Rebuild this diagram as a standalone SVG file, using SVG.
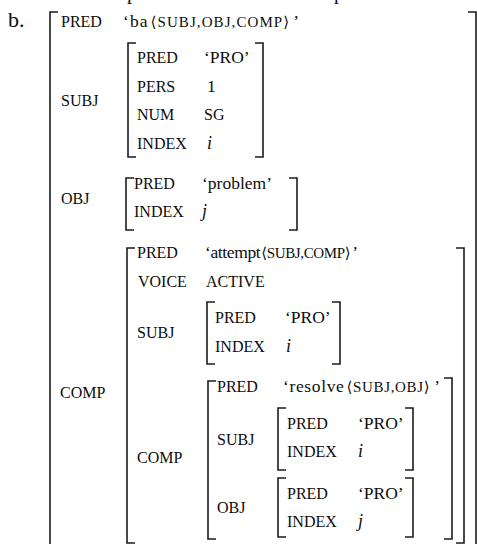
<svg xmlns="http://www.w3.org/2000/svg" width="477" height="544" viewBox="0 0 477 544">
  <style>
    text { font-family: "Liberation Serif", "Times New Roman", serif; fill: #0d0d0d; }
    .lab { font-size: 16px; }
    .val { font-size: 17.5px; }
    .sc { font-size: 15px; }
    .ang { font-family: "DejaVu Serif", serif; font-size: 15px; }
    .it { font-style: italic; font-size: 18px; }
    .num { font-size: 22px; }
    .cut { font-size: 20px; }
    .brk { fill: none; stroke: #1c1c1c; stroke-width: 1.6; }
  </style>

  <!-- descenders of the line above, cut off by the frame -->
  <text class="cut" x="127" y="-1">p</text>
  <text class="cut" x="334" y="-1">p</text>

  <text class="num" x="8" y="27">b.</text>

  <!-- outermost f-structure -->
  <g id="f-main">
    <path class="brk" d="M58 12 H50 V560"/>
    <path class="brk" d="M468 12 H476 V560"/>
    <text class="lab" x="61" y="27">PRED</text>
    <text class="val" x="123" y="27" textLength="176" lengthAdjust="spacing">‘ba<tspan class="ang" dx="2">⟨</tspan><tspan class="sc">SUBJ,OBJ,COMP</tspan><tspan class="ang">⟩</tspan><tspan dx="3">’</tspan></text>
    <text class="lab" x="61" y="106">SUBJ</text>
    <text class="lab" x="61" y="204">OBJ</text>
    <text class="lab" x="60" y="398">COMP</text>
  </g>

  <!-- SUBJ of ba -->
  <g id="f-subj">
    <path class="brk" d="M136 43 H128 V157 H136"/>
    <path class="brk" d="M255 43 H263 V157 H255"/>
    <text class="lab" x="137" y="63">PRED</text>
    <text class="val" x="204" y="63">‘PRO’</text>
    <text class="lab" x="137" y="92">PERS</text>
    <text class="val" x="207" y="92">1</text>
    <text class="lab" x="137" y="120">NUM</text>
    <text class="lab" x="204" y="120">SG</text>
    <text class="lab" x="137" y="149">INDEX</text>
    <text class="it" x="207" y="149">i</text>
  </g>

  <!-- OBJ of ba -->
  <g id="f-obj">
    <path class="brk" d="M134 178 H126 V230 H134"/>
    <path class="brk" d="M289 178 H297 V230 H289"/>
    <text class="lab" x="134" y="189">PRED</text>
    <text class="val" x="202" y="189">‘problem’</text>
    <text class="lab" x="134" y="217">INDEX</text>
    <text class="it" x="202" y="217">j</text>
  </g>

  <!-- COMP of ba: attempt -->
  <g id="f-comp">
    <path class="brk" d="M135 248 H127 V543 H135"/>
    <path class="brk" d="M456 248 H464 V543 H456"/>
    <text class="lab" x="137" y="258">PRED</text>
    <text class="val" x="205" y="258" textLength="153" lengthAdjust="spacing">‘attempt<tspan class="ang" dx="1">⟨</tspan><tspan class="sc">SUBJ,COMP</tspan><tspan class="ang">⟩</tspan><tspan dx="2">’</tspan></text>
    <text class="lab" x="138" y="287">VOICE</text>
    <text class="lab" x="206" y="287">ACTIVE</text>
    <text class="lab" x="137" y="338">SUBJ</text>
    <text class="lab" x="137" y="463">COMP</text>
  </g>

  <!-- SUBJ of attempt -->
  <g id="f-comp-subj">
    <path class="brk" d="M215 302 H207 V364 H215"/>
    <path class="brk" d="M332 302 H340 V364 H332"/>
    <text class="lab" x="215" y="323">PRED</text>
    <text class="val" x="285" y="323">‘PRO’</text>
    <text class="lab" x="215" y="352">INDEX</text>
    <text class="it" x="286" y="352">i</text>
  </g>

  <!-- COMP of attempt: resolve -->
  <g id="f-comp-comp">
    <path class="brk" d="M216 381 H208 V539 H216"/>
    <path class="brk" d="M444 378 H452 V539 H444"/>
    <text class="lab" x="217" y="392">PRED</text>
    <text class="val" x="283" y="392" textLength="157" lengthAdjust="spacing">‘resolve<tspan class="ang" dx="2">⟨</tspan><tspan class="sc">SUBJ,OBJ</tspan><tspan class="ang">⟩</tspan><tspan dx="4">’</tspan></text>
    <text class="lab" x="217" y="445">SUBJ</text>
    <text class="lab" x="217" y="513">OBJ</text>
  </g>

  <!-- SUBJ of resolve -->
  <g id="f-resolve-subj">
    <path class="brk" d="M286 408 H278 V470 H286"/>
    <path class="brk" d="M405 408 H413 V470 H405"/>
    <text class="lab" x="287" y="429">PRED</text>
    <text class="val" x="358" y="429">‘PRO’</text>
    <text class="lab" x="287" y="457">INDEX</text>
    <text class="it" x="358" y="457">i</text>
  </g>

  <!-- OBJ of resolve -->
  <g id="f-resolve-obj">
    <path class="brk" d="M286 478 H278 V537 H286"/>
    <path class="brk" d="M405 478 H413 V537 H405"/>
    <text class="lab" x="287" y="499">PRED</text>
    <text class="val" x="358" y="499">‘PRO’</text>
    <text class="lab" x="287" y="527">INDEX</text>
    <text class="it" x="358" y="527">j</text>
  </g>
</svg>
